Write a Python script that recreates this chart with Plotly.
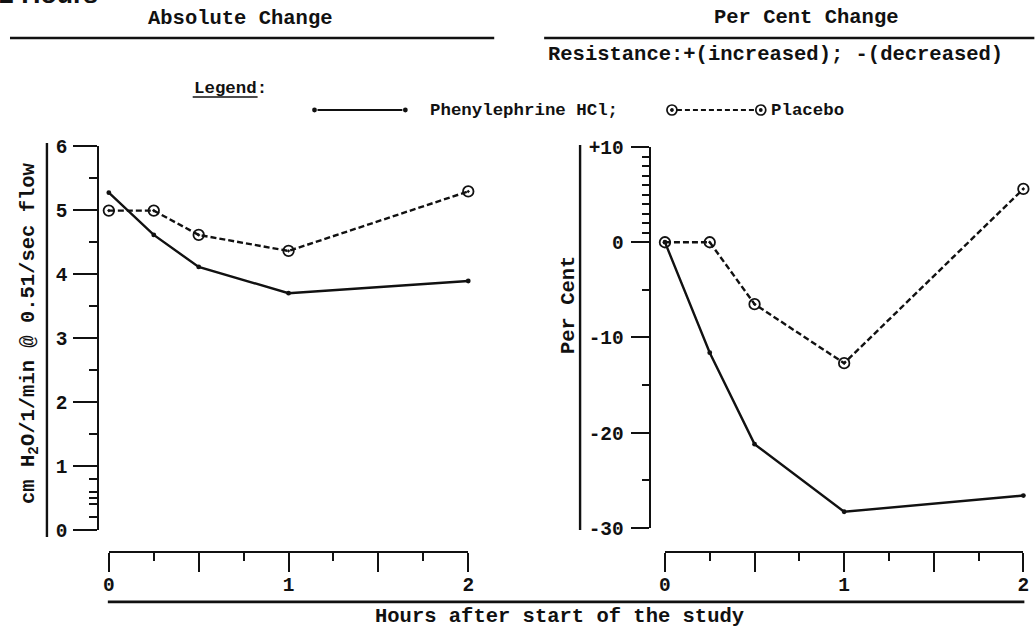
import plotly.graph_objects as go

# ---- data ----
hours = [0, 0.25, 0.5, 1, 2]
abs_phenylephrine = [5.27, 4.61, 4.11, 3.70, 3.89]
abs_placebo = [4.99, 4.99, 4.61, 4.36, 5.29]
pct_phenylephrine = [0, -11.6, -21.2, -28.3, -26.6]
pct_placebo = [0, 0, -6.5, -12.7, 5.6]

x_tickvals = [0, 0.5, 1, 1.5, 2]
x_ticktext = ["0", "", "1", "", "2"]
abs_tickvals = [0, 1, 2, 3, 4, 5, 6]
abs_minor = [0.2, 0.4, 0.5, 0.6, 0.8, 1.5, 2.5, 3.5, 4.5, 5.5]
pct_tickvals = [-30, -20, -10, 0, 10]
pct_ticktext = ["-30", "-20", "-10", "0", "+10"]
pct_minor = [-25, -15, -5, 1, 2, 3, 4, 5, 6, 7, 8, 9]

W, H = 1036, 627
INK = "#111111"
MONO = "Liberation Mono, Courier New, monospace"

# the captured page is slightly larger than the figure; compensate so that
# reference pixel positions land where intended in the final picture
AX, BX = 0.990, 6.0
AY, BY = 0.965, 9.0
FS = 1.025  # font scale compensation


def px(x):
    return ((x - BX) / AX) / W


def py(y):
    return 1 - ((y - BY) / AY) / H


def lx(v):
    return v / AX


def ly(v):
    return v / AY


fig = go.Figure()

for xa, ya, phen, plac in [("x", "y", abs_phenylephrine, abs_placebo),
                           ("x2", "y2", pct_phenylephrine, pct_placebo)]:
    fig.add_trace(go.Scatter(
        x=hours, y=phen, xaxis=xa, yaxis=ya, mode="lines+markers",
        line=dict(color=INK, width=2.4),
        marker=dict(color=INK, size=4.8),
        cliponaxis=False, showlegend=False, name="Phenylephrine HCl"))
    fig.add_trace(go.Scatter(
        x=hours, y=plac, xaxis=xa, yaxis=ya, mode="lines+markers",
        line=dict(color=INK, width=2.4, dash="6px,3px"),
        marker=dict(symbol="circle-open-dot", color=INK, size=10.5,
                    line=dict(width=1.8, color=INK)),
        cliponaxis=False, showlegend=False, name="Placebo"))

TICKFONT = dict(family=MONO, size=19 * FS, color=INK, weight="bold")

xcommon = dict(
    range=[0, 2], anchor="free", position=py(552), showline=True,
    linewidth=2.4, linecolor=INK, showgrid=False, zeroline=False,
    ticks="outside", ticklen=ly(18), tickwidth=2, tickcolor=INK,
    tickvals=x_tickvals, ticktext=x_ticktext, ticklabelstandoff=-4,
    minor=dict(tickvals=[0.25, 0.75, 1.25, 1.75], ticklen=ly(8),
               tickwidth=2, tickcolor=INK, ticks="outside"),
    tickfont=TICKFONT,
)
ycommon = dict(
    anchor="free", showline=True, linewidth=2.4, linecolor=INK,
    showgrid=False, zeroline=False, ticks="outside", tickwidth=2,
    tickcolor=INK, tickfont=TICKFONT,
)

fig.update_layout(
    width=W, height=H, margin=dict(l=0, r=0, t=0, b=0),
    paper_bgcolor="white", plot_bgcolor="rgba(0,0,0,0)",
    showlegend=False,
    xaxis=dict(domain=[px(109), px(469)], **xcommon),
    xaxis2=dict(domain=[px(666), px(1025)], **xcommon),
    yaxis=dict(domain=[py(530), py(146)], range=[0, 6], position=px(98),
               tickvals=abs_tickvals, ticklen=lx(23), ticklabelstandoff=2,
               minor=dict(tickvals=abs_minor, ticklen=lx(8), tickwidth=1.8,
                          tickcolor=INK, ticks="outside"),
               **ycommon),
    yaxis2=dict(domain=[py(528), py(147)], range=[-30, 10], position=px(651),
                tickvals=pct_tickvals, ticktext=pct_ticktext, ticklen=lx(18),
                ticklabelstandoff=3,
                minor=dict(tickvals=pct_minor, ticklen=lx(7), tickwidth=1.8,
                           tickcolor=INK, ticks="outside"),
                **ycommon),
)


# decorative rules
def hline(x0, x1, y, w=2.4, dash=None):
    fig.add_shape(type="line", xref="paper", yref="paper",
                  x0=px(x0), x1=px(x1), y0=py(y), y1=py(y),
                  line=dict(color=INK, width=w, dash=dash))


def vline(x, y0, y1, w=2.4):
    fig.add_shape(type="line", xref="paper", yref="paper",
                  x0=px(x), x1=px(x), y0=py(y0), y1=py(y1),
                  line=dict(color=INK, width=w))


def dot(cx, cy, r, filled=True, w=1.6):
    fig.add_shape(type="circle", xref="paper", yref="paper",
                  x0=px(cx - r), x1=px(cx + r), y0=py(cy + r), y1=py(cy - r),
                  fillcolor=INK if filled else None, line=dict(color=INK, width=w))


hline(10, 495, 38)
hline(545, 1036, 38)
hline(108, 1026, 602, 2.8)
hline(193, 258, 97, 1.5)
vline(47, 143, 537)
vline(581, 145, 530)

# legend samples
LY = 110
hline(318, 403, LY, 2)
dot(315, LY, 1.6)
dot(406, LY, 1.6)
hline(678, 757, LY, 2, dash="5px,3px")
for cx in (673, 762):
    dot(cx, LY, 5, filled=False, w=1.7)
    dot(cx, LY, 1.1)


def text(s, x, y, size=20, xanchor="center", yanchor="middle", angle=0,
         family=MONO, bold=True):
    fig.add_annotation(text=s, x=px(x), y=py(y), xref="paper", yref="paper",
                       xanchor=xanchor, yanchor=yanchor, showarrow=False,
                       textangle=angle, borderpad=0,
                       font=dict(family=family, size=size * FS, color=INK,
                                 weight="bold" if bold else "normal"))


text("2 Hours", -2, 10, size=26, xanchor="left", yanchor="bottom",
     family="Arial, Liberation Sans, sans-serif")
text("Absolute Change", 241, 19)
text("Per Cent Change", 808, 18)
text("Resistance:+(increased); -(decreased)", 777, 55)
text("Legend:", 193, 88, size=17, xanchor="left")
text("Phenylephrine HCl;", 430, LY, size=17, xanchor="left")
text("Placebo", 771, LY, size=17, xanchor="left")
text("Hours after start of the study", 560, 617)
text("cm H<sub>2</sub>O/1/min @ 0.51/sec flow", 30, 333, angle=-90)
text("Per Cent", 570, 305, angle=-90)

POST = (
    "document.documentElement.style.margin='0';"
    "document.documentElement.style.padding='0';"
    "document.documentElement.style.overflow='hidden';"
    "document.body.style.margin='0';"
    "document.body.style.padding='0';"
    "document.body.style.overflow='hidden';"
)
fig.write_html("out.html", post_script=POST,
               config={"displayModeBar": False})
